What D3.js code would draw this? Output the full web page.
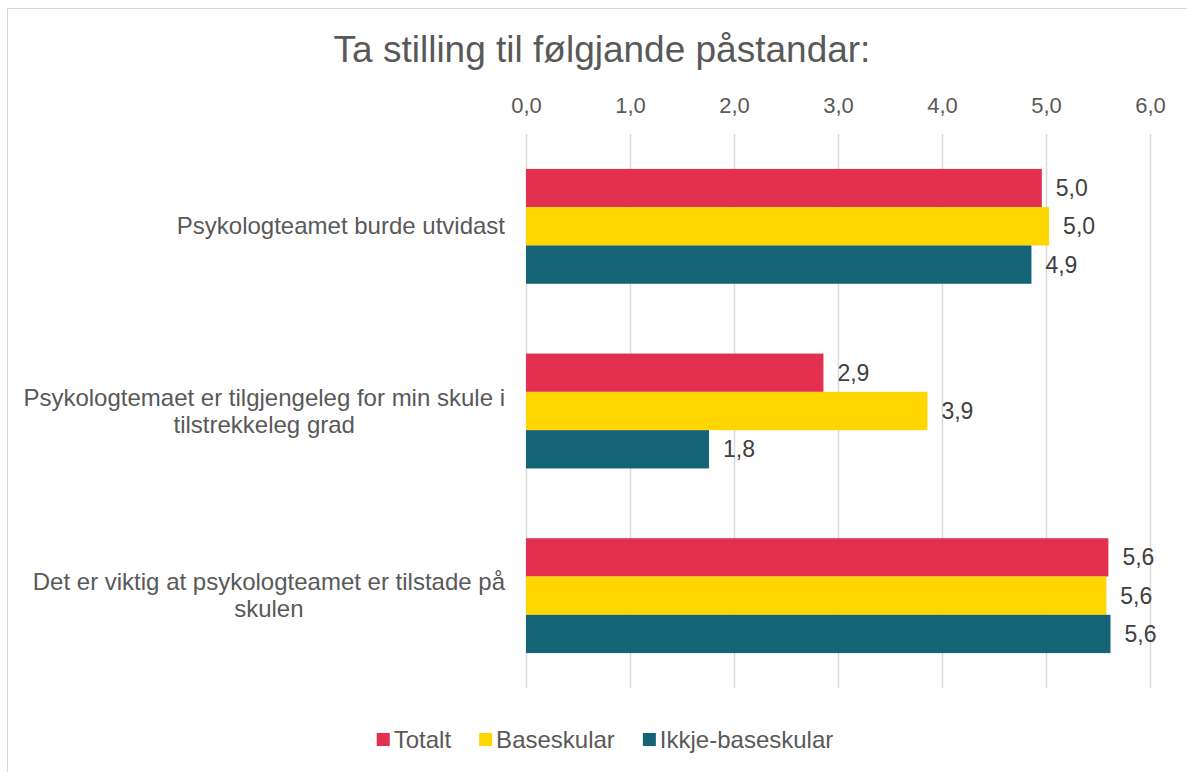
<!DOCTYPE html>
<html>
<head>
<meta charset="utf-8">
<script src="https://cdn.jsdelivr.net/npm/d3@7"></script>
<style>
  body { margin: 0; background: #fff; }
  text { font-family: "Liberation Sans", Arial, sans-serif; }
</style>
</head>
<body>
<div id="chart"></div>
<script>
const title = 'Ta stilling til følgjande påstandar:';
const categories = [
    ['Psykologteamet burde utvidast'],
    ['Psykologtemaet er tilgjengeleg for min skule i', 'tilstrekkeleg grad'],
    ['Det er viktig at psykologteamet er tilstade på', 'skulen']
];
const seriesNames = ['Totalt', 'Baseskular', 'Ikkje-baseskular'];
const seriesColors = ['#e4304f', '#ffd600', '#146475'];
const totalt = [4.96, 2.86, 5.6];
const baseskular = [5.03, 3.86, 5.58];
const ikkjeBaseskular = [4.86, 1.76, 5.62];
const tickValues = [0, 1, 2, 3, 4, 5, 6];

const values = [totalt, baseskular, ikkjeBaseskular];
const fmt = v => v.toFixed(1).replace('.', ',');

const width = 1187, height = 772;
const svg = d3.select('#chart').append('svg')
    .attr('width', width)
    .attr('height', height);

// chart border (only top and left visible in frame)
svg.append('rect')
    .attr('x', 7.5).attr('y', 8.5)
    .attr('width', 1300).attr('height', 900)
    .style('fill', 'none')
    .style('stroke', '#d9d9d9');

svg.append('text')
    .attr('x', 602)
    .attr('y', 62)
    .attr('text-anchor', 'middle')
    .style('font-size', '37px')
    .style('fill', '#595959')
    .text(title);

const x = d3.scaleLinear().domain([0, 6]).range([526, 1150]);
const y = d3.scaleBand()
    .domain(d3.range(categories.length))
    .range([134, 688])
    .paddingInner(0.378)
    .paddingOuter(0.189);
const ySub = d3.scaleBand()
    .domain(d3.range(seriesNames.length))
    .range([0, y.bandwidth()]);

// gridlines
svg.selectAll('.grid')
    .data(tickValues)
    .enter().append('line')
    .attr('class', 'grid')
    .attr('x1', d => Math.round(x(d)) + 0.5)
    .attr('x2', d => Math.round(x(d)) + 0.5)
    .attr('y1', 134)
    .attr('y2', 688)
    .style('stroke', '#d9d9d9')
    .style('stroke-width', 1.5);

// top axis labels
const axis = svg.append('g')
    .attr('transform', 'translate(0,119)')
    .call(d3.axisTop(x).tickValues(tickValues).tickFormat(fmt).tickSize(0).tickPadding(6));
axis.select('.domain').remove();
axis.selectAll('text')
    .style('font-size', '22px')
    .style('fill', '#595959')
    .style('font-family', '"Liberation Sans", Arial, sans-serif');

// bars
const groups = svg.selectAll('.group')
    .data(categories)
    .enter().append('g')
    .attr('class', 'group')
    .attr('transform', (d, i) => `translate(0,${y(i)})`);

groups.each(function (cat, ci) {
    const g = d3.select(this);
    seriesNames.forEach((s, si) => {
        const v = values[si][ci];
        g.append('rect')
            .attr('x', x(0))
            .attr('y', ySub(si))
            .attr('width', x(v) - x(0))
            .attr('height', ySub.bandwidth())
            .style('fill', seriesColors[si]);
        g.append('text')
            .attr('x', x(v) + 14)
            .attr('y', ySub(si) + ySub.bandwidth() / 2 + 8)
            .style('font-size', '23px')
            .style('fill', '#404040')
            .text(fmt(v));
    });
});

// category labels: right-aligned block, lines centered within it
const lineH = 27;
categories.forEach((lines, ci) => {
    const cy = y(ci) + y.bandwidth() / 2;
    const t = svg.append('text')
        .style('font-size', '24px')
        .style('fill', '#595959')
        .attr('text-anchor', 'middle');
    const spans = lines.map((l, li) => t.append('tspan')
        .attr('y', cy - (lines.length - 1) * lineH / 2 + li * lineH + 8)
        .text(l));
    const maxW = d3.max(spans, s => s.node().getComputedTextLength());
    spans.forEach(s => s.attr('x', 505 - maxW / 2));
});

// legend
const legend = svg.append('g');
let lx = 0;
seriesNames.forEach((s, si) => {
    legend.append('rect')
        .attr('x', lx).attr('y', 733)
        .attr('width', 13).attr('height', 13)
        .style('fill', seriesColors[si]);
    const t = legend.append('text')
        .attr('x', lx + 17)
        .attr('y', 748)
        .style('font-size', '24px')
        .style('fill', '#595959')
        .text(s);
    lx += 17 + t.node().getComputedTextLength() + 28;
});
const lw = lx - 28;
legend.attr('transform', `translate(${605 - lw / 2},0)`);
</script>
</body>
</html>
